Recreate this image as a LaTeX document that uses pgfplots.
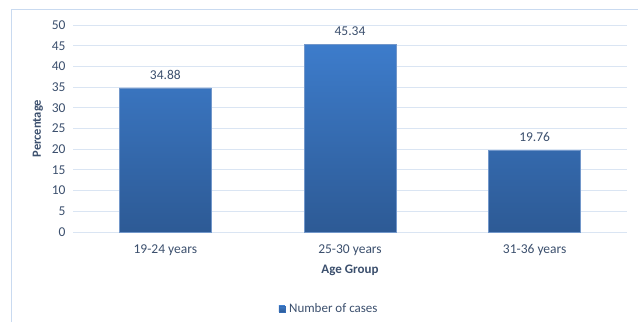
\documentclass[border=0pt]{standalone}
\usepackage{pgfplots}
\pgfplotsset{compat=1.18}
\usepackage{fontspec}
\setmainfont{Carlito}
\definecolor{txt}{HTML}{3B4F6D}
\definecolor{bartop}{HTML}{3D7CCB}
\definecolor{barbot}{HTML}{2D5A95}
\definecolor{barmid}{HTML}{356BB3}
\definecolor{gridc}{HTML}{DAE5F3}
\definecolor{framec}{HTML}{C9DAF0}
\begin{document}
\begin{tikzpicture}[x=1pt,y=1pt]
\path[use as bounding box] (0,0) rectangle (638,322);
\draw[framec, line width=1pt] (11,0) -- (11,312) -- (638,312);
\begin{axis}[
  at={(73pt,90pt)}, anchor=south west,
  scale only axis, width=554pt, height=206.7pt,
  xmin=-0.5, xmax=2.5, ymin=0, ymax=50,
  ytick={0,5,...,50},
  xtick={0,1,2},
  xticklabels={19-24 years,25-30 years,31-36 years},
  axis line style={draw=none},
  major tick length=0pt,
  ymajorgrids, major grid style={gridc, line width=1pt},
  font=\fontsize{13}{15}\selectfont,
  tick label style={txt, font=\fontsize{13.5}{15}\selectfont},
  /pgf/number format/assume math mode=true,
  yticklabel style={xshift=-4pt},
  xticklabel style={yshift=-9pt},
  every axis y label/.style={at={(axis description cs:-0.0632,0.5)}, rotate=90, anchor=center, txt, font=\bfseries\fontsize{12.5}{14}\selectfont},
  every axis x label/.style={at={(axis description cs:0.5,-0.184)}, anchor=center, txt, font=\bfseries\fontsize{13}{15}\selectfont},
  ylabel={Percentage},
  xlabel={Age Group},
  legend style={at={(axis description cs:0.464,-0.372)}, anchor=center, draw=none, fill=none,
    font=\fontsize{13}{15}\selectfont, text=txt, inner sep=0pt,
    nodes={inner xsep=4pt}},
  legend image code/.code={\fill[barmid] (0pt,-3pt) rectangle (6pt,3pt);},
  nodes near coords={\pgfmathprintnumber[fixed,precision=2,fixed zerofill]{\pgfplotspointmeta}},
  nodes near coords style={txt, font=\fontsize{13.5}{15}\selectfont, yshift=5pt},
]
\addplot[ybar, bar width=92pt, draw=barmid!70!white, line width=0.5pt, top color=bartop, bottom color=barbot]
  coordinates {(0,34.88) (1,45.34) (2,19.76)};
\addlegendentry{Number of cases}
\end{axis}
\end{tikzpicture}
\end{document}
